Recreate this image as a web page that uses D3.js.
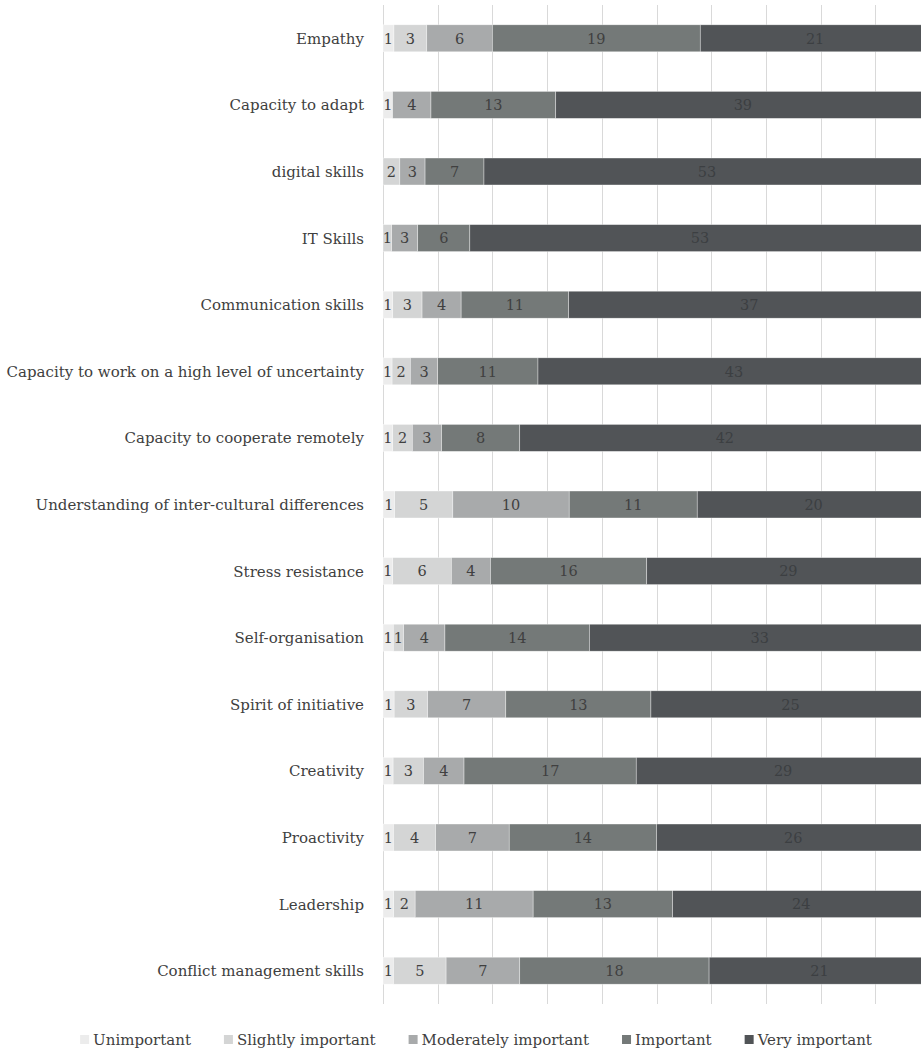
<!DOCTYPE html>
<html>
<head>
<meta charset="utf-8">
<script src="https://cdn.jsdelivr.net/npm/d3@7"></script>
<style>
  html, body { margin: 0; padding: 0; background: #fff; }
  svg { display: block; }
  text { font-family: "DejaVu Serif", "Liberation Serif", serif; }
</style>
</head>
<body>
<svg id="chart" width="921" height="1052"></svg>
<script>
// Skills, top to bottom
const categories = [
  "Empathy",
  "Capacity to adapt",
  "digital skills",
  "IT Skills",
  "Communication skills",
  "Capacity to work on a high level of uncertainty",
  "Capacity to cooperate remotely",
  "Understanding of inter-cultural differences",
  "Stress resistance",
  "Self-organisation",
  "Spirit of initiative",
  "Creativity",
  "Proactivity",
  "Leadership",
  "Conflict management skills"
];

const levels = ["Unimportant", "Slightly important", "Moderately important", "Important", "Very important"];

// Response counts per level, one entry per skill
const unimportant   = [1, 1, 0, 0, 1, 1, 1, 1, 1, 1, 1, 1, 1, 1, 1];
const slightly      = [3, 0, 2, 1, 3, 2, 2, 5, 6, 1, 3, 3, 4, 2, 5];
const moderately    = [6, 4, 3, 3, 4, 3, 3, 10, 4, 4, 7, 4, 7, 11, 7];
const important     = [19, 13, 7, 6, 11, 11, 8, 11, 16, 14, 13, 17, 14, 13, 18];
const veryImportant = [21, 39, 53, 53, 37, 43, 42, 20, 29, 33, 25, 29, 26, 24, 21];

const levelColors = ["#ececec", "#d4d5d5", "#a8aaab", "#747978", "#515457"];

const seriesValues = [unimportant, slightly, moderately, important, veryImportant];

// Rows for the stack: each skill with its share of each level
const rows = categories.map((c, i) => {
  const row = { category: c };
  const total = d3.sum(seriesValues, s => s[i]);
  levels.forEach((l, j) => {
    row[l] = seriesValues[j][i];
    row[l + "_share"] = seriesValues[j][i] / total;
  });
  return row;
});

const stack = d3.stack()
  .keys(levels)
  .value((d, key) => d[key + "_share"]);
const stacked = stack(rows);

const svg = d3.select("#chart");

const plotLeft = 383, plotRight = 930, plotTop = 5, plotBottom = 1004;

const x = d3.scaleLinear().domain([0, 1]).range([plotLeft, plotRight]);
const y = d3.scaleBand()
  .domain(categories)
  .range([plotTop, plotBottom])
  .paddingInner(0.595)
  .paddingOuter(0.2975);

// Vertical gridlines every 10%
svg.append("g")
  .attr("class", "grid")
  .selectAll("line")
  .data(d3.range(0, 1.0001, 0.1))
  .join("line")
  .attr("x1", d => Math.round(x(d)) + 0.5)
  .attr("x2", d => Math.round(x(d)) + 0.5)
  .attr("y1", plotTop)
  .attr("y2", plotBottom)
  .attr("stroke", "#d9d9d9")
  .attr("stroke-width", 1);

// Stacked segments
const layer = svg.append("g")
  .selectAll("g")
  .data(stacked)
  .join("g")
  .attr("fill", (d, i) => levelColors[i]);

layer.selectAll("rect")
  .data(d => d.map(s => ({ s, key: d.key })))
  .join("rect")
  .attr("x", d => x(d.s[0]))
  .attr("y", d => y(d.s.data.category))
  .attr("width", d => x(d.s[1]) - x(d.s[0]))
  .attr("height", y.bandwidth())
  .attr("stroke", "#ffffff")
  .attr("stroke-width", 0.6)
  .attr("stroke-opacity", 0.6);

// Value labels centred in each non-empty segment
layer.selectAll("text")
  .data(d => d.filter(s => s.data[d.key] > 0).map(s => ({ s, key: d.key })))
  .join("text")
  .attr("x", d => (x(d.s[0]) + x(d.s[1])) / 2)
  .attr("y", d => y(d.s.data.category) + y.bandwidth() / 2)
  .attr("dy", "0.36em")
  .attr("text-anchor", "middle")
  .attr("font-size", 14.5)
  .attr("fill", d => d.key === "Very important" ? "#3c3f42" : "#404040")
  .text(d => d.s.data[d.key]);

// Category labels
svg.append("g")
  .selectAll("text")
  .data(categories)
  .join("text")
  .attr("x", plotLeft - 19)
  .attr("y", d => y(d) + y.bandwidth() / 2)
  .attr("dy", "0.36em")
  .attr("text-anchor", "end")
  .attr("font-size", 15)
  .attr("fill", "#404040")
  .text(d => d);

// Legend, centred below the plot
const legendY = 1040;
const legendCenter = 476;
const swatch = 9, swatchGap = 4, itemGap = 33;
const legend = svg.append("g");
const items = legend.selectAll("g")
  .data(levels)
  .join("g");
items.append("rect")
  .attr("width", swatch)
  .attr("height", swatch)
  .attr("y", legendY - swatch / 2 - 0.5)
  .attr("fill", (d, i) => levelColors[i]);
items.append("text")
  .attr("x", swatch + swatchGap)
  .attr("y", legendY)
  .attr("dy", "0.36em")
  .attr("font-size", 15)
  .attr("fill", "#404040")
  .text(d => d);
const widths = [];
items.each(function () {
  widths.push(swatch + swatchGap + this.querySelector("text").getComputedTextLength());
});
const totalW = d3.sum(widths) + itemGap * (widths.length - 1);
let cursor = legendCenter - totalW / 2;
items.attr("transform", (d, i) => {
  const t = `translate(${cursor},0)`;
  cursor += widths[i] + itemGap;
  return t;
});
</script>
</body>
</html>
